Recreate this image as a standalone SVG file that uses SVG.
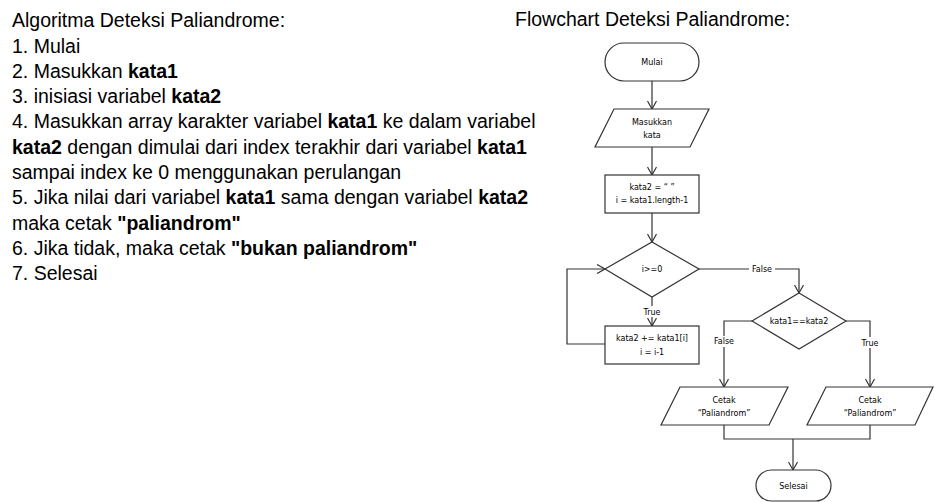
<svg xmlns="http://www.w3.org/2000/svg" width="935" height="502" viewBox="0 0 935 502">
<style>
.t{font-family:"Liberation Sans",Arial,sans-serif;font-size:19.5px;fill:#000}
.b{font-weight:bold}
.s{fill:#fff;stroke:#333;stroke-width:1.2}
.l{fill:none;stroke:#333;stroke-width:1.2}
.f{font-family:"DejaVu Sans",Verdana,sans-serif;font-size:8px;fill:#000;text-anchor:middle}
.lb{fill:#fff}
</style>
<defs>
<marker id="a" viewBox="0 0 10 10" refX="10" refY="5" markerWidth="10" markerHeight="10" markerUnits="userSpaceOnUse" orient="auto">
<path d="M2,0.5 L10,5 L2,9.5" fill="none" stroke="#333" stroke-width="1.2"/>
</marker>
</defs>
<rect width="935" height="502" fill="#fff"/>
<g id="algoritma">
<text class="t" x="12" y="27">Algoritma Deteksi Paliandrome:</text>
<text class="t" x="12" y="53">1. Mulai</text>
<text class="t" x="12" y="78">2. Masukkan <tspan class="b">kata1</tspan></text>
<text class="t" x="12" y="103">3. inisiasi variabel <tspan class="b">kata2</tspan></text>
<text class="t" x="12" y="128">4. Masukkan array karakter variabel <tspan class="b">kata1</tspan> ke dalam variabel</text>
<text class="t" x="12" y="154"><tspan class="b">kata2</tspan> dengan dimulai dari index terakhir dari variabel <tspan class="b">kata1</tspan></text>
<text class="t" x="12" y="179">sampai index ke 0 menggunakan perulangan</text>
<text class="t" x="12" y="204">5. Jika nilai dari variabel <tspan class="b">kata1</tspan> sama dengan variabel <tspan class="b">kata2</tspan></text>
<text class="t" x="12" y="230">maka cetak <tspan class="b">"paliandrom"</tspan></text>
<text class="t" x="12" y="255">6. Jika tidak, maka cetak <tspan class="b">"bukan paliandrom"</tspan></text>
<text class="t" x="12" y="280">7. Selesai</text>
</g>
<text id="title" class="t" x="515" y="26">Flowchart Deteksi Paliandrome:</text>
<g id="connectors">
<path class="l" d="M652,81 V109" marker-end="url(#a)"/>
<path class="l" d="M652,147 V175" marker-end="url(#a)"/>
<path class="l" d="M652,213 V242" marker-end="url(#a)"/>
<path class="l" d="M652,297 V326" marker-end="url(#a)"/>
<path class="l" d="M605,344 H567 V269 H605" marker-end="url(#a)"/>
<path class="l" d="M699,269 H799 V293" marker-end="url(#a)"/>
<path class="l" d="M752,321 H724 V387" marker-end="url(#a)"/>
<path class="l" d="M846,321 H870 V387" marker-end="url(#a)"/>
<path class="l" d="M724,425 V439 H870 V425"/>
<path class="l" d="M793,439 V470" marker-end="url(#a)"/>
<rect class="lb" x="640" y="306" width="24" height="11"/>
<text class="f" x="652" y="315">True</text>
<rect class="lb" x="749" y="264" width="26" height="11"/>
<text class="f" x="762" y="272">False</text>
<rect class="lb" x="711" y="336" width="26" height="11"/>
<text class="f" x="724" y="344">False</text>
<rect class="lb" x="858" y="337" width="24" height="11"/>
<text class="f" x="870" y="346">True</text>
</g>
<g id="mulai">
<rect class="s" x="605" y="43" width="94" height="38" rx="19"/>
<text class="f" x="652" y="65">Mulai</text>
</g>
<g id="input">
<polygon class="s" points="614,109 709,109 690,147 595,147"/>
<text class="f" x="652" y="125">Masukkan</text>
<text class="f" x="652" y="138">kata</text>
</g>
<g id="init">
<rect class="s" x="605" y="175" width="94" height="38"/>
<text class="f" x="652" y="190">kata2 = “ ”</text>
<text class="f" x="652" y="203">i = kata1.length-1</text>
</g>
<g id="cek-i">
<polygon class="s" points="652,242 699,269 652,297 605,269"/>
<text class="f" x="652" y="272">i&gt;=0</text>
</g>
<g id="loop">
<rect class="s" x="605" y="326" width="94" height="38"/>
<text class="f" x="652" y="341">kata2 += kata1[i]</text>
<text class="f" x="652" y="355">i = i-1</text>
</g>
<g id="cek-kata">
<polygon class="s" points="799,293 846,321 799,349 752,321"/>
<text class="f" x="799" y="324">kata1==kata2</text>
</g>
<g id="cetak-kiri">
<polygon class="s" points="680,387 788,387 769,425 661,425"/>
<text class="f" x="724" y="403">Cetak</text>
<text class="f" x="724" y="416">“Paliandrom”</text>
</g>
<g id="cetak-kanan">
<polygon class="s" points="826,387 933,387 915,425 807,425"/>
<text class="f" x="870" y="403">Cetak</text>
<text class="f" x="870" y="416">“Paliandrom”</text>
</g>
<g id="selesai">
<rect class="s" x="756" y="470" width="75" height="31" rx="15.5"/>
<text class="f" x="793.5" y="489">Selesai</text>
</g>
</svg>
